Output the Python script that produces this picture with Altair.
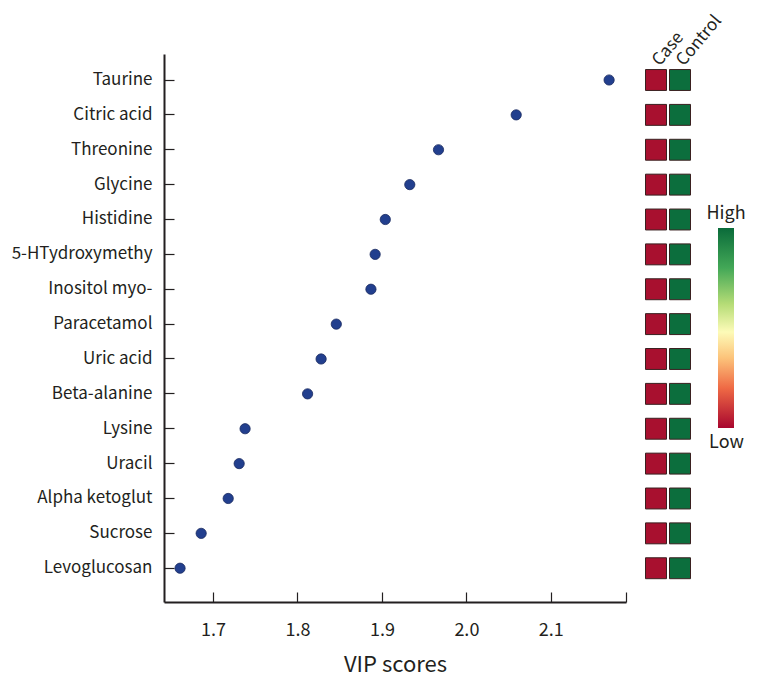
import altair as alt
import pandas as pd

metabolites = ["Taurine", "Citric acid", "Threonine", "Glycine", "Histidine",
               "5-HTydroxymethy", "Inositol myo-", "Paracetamol", "Uric acid",
               "Beta-alanine", "Lysine", "Uracil", "Alpha ketoglut", "Sucrose",
               "Levoglucosan"]
vip = [2.169, 2.059, 1.967, 1.933, 1.904, 1.892, 1.887, 1.846, 1.828, 1.812,
       1.738, 1.731, 1.718, 1.686, 1.661]
groups = ["Case", "Control"]
case_level = ["Low"] * 15
control_level = ["High"] * 15
x_domain = [1.642, 2.189]
x_ticks = [1.7, 1.8, 1.9, 2.0, 2.1]
x_tick_marks = [1.7, 1.8, 1.9, 2.0, 2.1, 2.189]

FONT = "Noto Sans CJK KR"
INK = "#231f20"
H = 548

df = pd.DataFrame({"metabolite": metabolites, "vip": vip})
heat = pd.DataFrame({
    "metabolite": metabolites * 2,
    "group": ["Case"] * 15 + ["Control"] * 15,
    "level": case_level + control_level,
})

yscale = alt.Scale(type="band", domain=metabolites, paddingInner=0.4,
                   paddingOuter=0.557, align=0.4)
xscale = alt.Scale(domain=x_domain, nice=False, zero=False)

points = alt.Chart(df).mark_circle(size=105, color="#223f8e", opacity=1,
                                   stroke="#18285e", strokeWidth=0.8).encode(
    x=alt.X("vip:Q", title="VIP scores", scale=xscale,
            axis=alt.Axis(values=x_ticks, format=".1f", grid=False, ticks=False,
                          labelPadding=19, labelFontSize=18, titleFontSize=22,
                          titlePadding=15, domainColor=INK, domainWidth=2,
                          labelColor=INK, titleColor=INK, titleFontWeight="normal",
                          labelFont=FONT, titleFont=FONT)),
    y=alt.Y("metabolite:N", sort=metabolites, scale=yscale, title=None,
            axis=alt.Axis(grid=False, ticks=False, labelPadding=12,
                          labelFontSize=17, labelColor=INK, domainColor=INK,
                          domainWidth=2, labelFont=FONT)),
)

tick_layer = alt.Chart(df).mark_point(opacity=0).encode(
    x=alt.X("vip:Q", scale=xscale, title=None,
            axis=alt.Axis(orient="bottom", values=x_tick_marks, labels=False,
                          domain=False, grid=False, ticks=True, tickSize=10,
                          tickWidth=1.2, tickColor=INK, offset=-10)),
    y=alt.Y("metabolite:N", sort=metabolites, scale=yscale, title=None,
            axis=alt.Axis(orient="left", labels=False, domain=False, grid=False,
                          ticks=True, tickSize=10, tickWidth=1.2, tickColor=INK,
                          offset=-10)),
)

left = alt.layer(points, tick_layer).resolve_axis(
    x="independent", y="independent").properties(width=462, height=H)

heatmap = alt.Chart(heat).mark_rect(stroke="#3a2020", strokeWidth=1).encode(
    x=alt.X("group:N", sort=groups, title=None,
            scale=alt.Scale(paddingInner=0.125, paddingOuter=0.0625),
            axis=alt.Axis(orient="top", labelAngle=-50, ticks=False, domain=False,
                          labelFontSize=17, labelColor=INK, labelFont=FONT,
                          labelPadding=-9)),
    y=alt.Y("metabolite:N", sort=metabolites, scale=yscale, axis=None),
    color=alt.Color("level:N", legend=None,
                    scale=alt.Scale(domain=["Low", "High"],
                                    range=["#a8102f", "#0c6e3d"])),
).properties(width=48, height=H)

bar_df = pd.DataFrame({"bar": ["scale"]})
gradient = alt.LinearGradient(
    gradient="linear", x1=0, x2=0, y1=0, y2=1,
    stops=[alt.GradientStop(color="#0a6b3a", offset=0),
           alt.GradientStop(color="#43a857", offset=0.2),
           alt.GradientStop(color="#b5dc76", offset=0.38),
           alt.GradientStop(color="#fdfbb8", offset=0.52),
           alt.GradientStop(color="#fcc37a", offset=0.65),
           alt.GradientStop(color="#ef6a45", offset=0.8),
           alt.GradientStop(color="#a8062e", offset=1)])
colorbar = alt.Chart(bar_df).mark_rect(fill=gradient).encode(
    x=alt.X("bar:N", scale=alt.Scale(paddingInner=0, paddingOuter=0.25, align=1),
            axis=alt.Axis(title="Low", labels=False, ticks=False, domain=False,
                          titleFontSize=18, titleFont=FONT, titleColor=INK,
                          titleFontWeight="normal", titlePadding=5, titleX=16)),
).properties(width=24, height=200,
             title=alt.TitleParams("High", fontSize=18, font=FONT, color=INK,
                                   fontWeight="normal", offset=5, dx=4))

chart = alt.hconcat(left, heatmap, colorbar, spacing=18, bounds="flush",
                    center=True).properties(
    padding={"left": 3, "top": 3, "right": 0, "bottom": 3}
).configure_view(stroke=None)

chart.save("out.html", embed_options={"renderer": "svg", "actions": False})
